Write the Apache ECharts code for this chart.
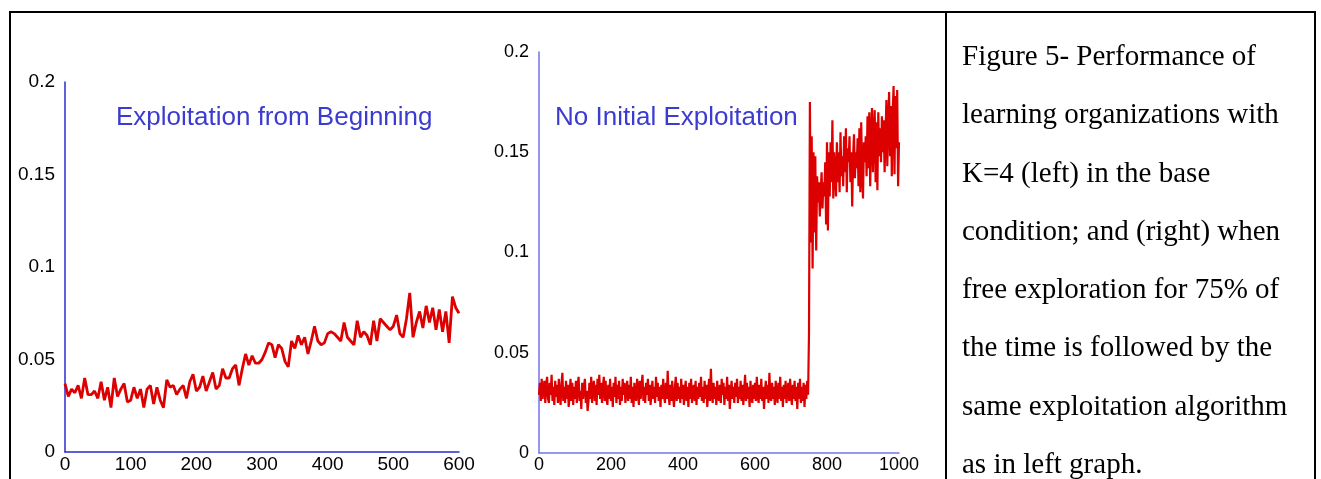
<!DOCTYPE html>
<html>
<head>
<meta charset="utf-8">
<script src="https://cdn.jsdelivr.net/npm/echarts@6/dist/echarts.min.js"></script>
<style>
  html, body { margin: 0; padding: 0; background: #fff; }
  #page { position: relative; width: 1321px; height: 479px; overflow: hidden; }
  #chart { position: absolute; left: 0; top: 0; width: 1321px; height: 479px; }
  .frame { position: absolute; left: 9px; top: 11px; width: 1303px; height: 520px; border: 2px solid #000; }
  .sep { position: absolute; left: 945px; top: 11px; width: 2px; height: 520px; background: #000; }
  .caption {
    position: absolute; left: 962px; top: 26px;
    font-family: 'Liberation Serif', 'Times New Roman', serif;
    font-size: 29px; line-height: 58.3px; color: #000; white-space: nowrap;
  }
</style>
</head>
<body>
<div id="page">
  <div class="frame"></div>
  <div class="sep"></div>
  <div id="chart"></div>
  <div class="caption">
    Figure 5- Performance of<br>
    learning organizations with<br>
    K=4 (left) in the base<br>
    condition; and (right) when<br>
    free exploration for 75% of<br>
    the time is followed by the<br>
    same exploitation algorithm<br>
    as in left graph.
  </div>
</div>
<script>
// 左图：从一开始就利用（每 5 步一个点，0..600）
const leftStep = 5
const leftValues = [
  0.037, 0.030, 0.034, 0.032, 0.036, 0.029, 0.040, 0.031, 0.031, 0.033,
  0.029, 0.038, 0.028, 0.035, 0.024, 0.040, 0.030, 0.034, 0.037, 0.027,
  0.028, 0.035, 0.029, 0.034, 0.024, 0.034, 0.036, 0.026, 0.035, 0.028,
  0.024, 0.039, 0.035, 0.036, 0.031, 0.034, 0.036, 0.029, 0.038, 0.042,
  0.033, 0.035, 0.041, 0.033, 0.038, 0.043, 0.034, 0.036, 0.045, 0.040,
  0.040, 0.045, 0.047, 0.036, 0.045, 0.053, 0.047, 0.052, 0.048, 0.048,
  0.050, 0.054, 0.059, 0.058, 0.051, 0.058, 0.056, 0.049, 0.046, 0.060,
  0.056, 0.063, 0.058, 0.062, 0.053, 0.060, 0.068, 0.060, 0.058, 0.059,
  0.064, 0.065, 0.064, 0.062, 0.060, 0.070, 0.062, 0.060, 0.058, 0.071,
  0.062, 0.065, 0.063, 0.058, 0.071, 0.060, 0.072, 0.070, 0.068, 0.066,
  0.068, 0.074, 0.064, 0.062, 0.072, 0.086, 0.062, 0.070, 0.076, 0.067,
  0.079, 0.070, 0.078, 0.066, 0.077, 0.065, 0.076, 0.059, 0.084, 0.078,
  0.075
]

// 右图：前 75% 自由探索，之后利用（每 2.5 步一个点，0..1000）
const rightStep = 2.5
const rightExplore = [
  0.029, 0.035, 0.026, 0.037, 0.027, 0.033, 0.036, 0.025, 0.034, 0.038, 0.027, 0.025, 0.035, 0.029, 0.039, 0.026, 0.033, 0.024, 0.036, 0.028,
  0.034, 0.025, 0.037, 0.029, 0.024, 0.035, 0.040, 0.026, 0.033, 0.025, 0.036, 0.027, 0.034, 0.023, 0.029, 0.037, 0.026, 0.035, 0.024, 0.033,
  0.027, 0.036, 0.025, 0.034, 0.038, 0.026, 0.031, 0.022, 0.035, 0.027, 0.033, 0.037, 0.025, 0.031, 0.021, 0.026, 0.035, 0.027, 0.038, 0.025,
  0.033, 0.036, 0.026, 0.034, 0.024, 0.037, 0.029, 0.039, 0.027, 0.035, 0.025, 0.033, 0.038, 0.026, 0.036, 0.028, 0.024, 0.034, 0.027, 0.037,
  0.026, 0.033, 0.023, 0.035, 0.028, 0.038, 0.025, 0.034, 0.027, 0.036, 0.024, 0.033, 0.026, 0.037, 0.029, 0.035, 0.025, 0.031, 0.036, 0.026,
  0.034, 0.027, 0.038, 0.025, 0.033, 0.023, 0.035, 0.028, 0.026, 0.037, 0.032, 0.024, 0.036, 0.027, 0.034, 0.039, 0.026, 0.033, 0.025, 0.035,
  0.029, 0.037, 0.026, 0.034, 0.024, 0.031, 0.036, 0.027, 0.033, 0.025, 0.038, 0.028, 0.035, 0.026, 0.033, 0.023, 0.034, 0.027, 0.037, 0.028,
  0.025, 0.035, 0.027, 0.041, 0.029, 0.024, 0.034, 0.026, 0.036, 0.028, 0.023, 0.033, 0.038, 0.026, 0.035, 0.027, 0.033, 0.025, 0.037, 0.027,
  0.034, 0.024, 0.031, 0.036, 0.026, 0.033, 0.023, 0.035, 0.027, 0.037, 0.025, 0.031, 0.034, 0.026, 0.036, 0.024, 0.033, 0.027, 0.035, 0.028,
  0.038, 0.026, 0.033, 0.025, 0.036, 0.027, 0.034, 0.023, 0.031, 0.037, 0.026, 0.042, 0.029, 0.025, 0.035, 0.027, 0.033, 0.024, 0.036, 0.028,
  0.026, 0.034, 0.025, 0.037, 0.029, 0.035, 0.024, 0.033, 0.027, 0.038, 0.026, 0.034, 0.022, 0.030, 0.036, 0.027, 0.033, 0.025, 0.035, 0.028,
  0.037, 0.025, 0.033, 0.027, 0.036, 0.026, 0.034, 0.024, 0.031, 0.039, 0.026, 0.035, 0.027, 0.033, 0.023, 0.036, 0.028, 0.025, 0.034, 0.027,
  0.035, 0.026, 0.038, 0.029, 0.025, 0.034, 0.027, 0.037, 0.026, 0.033, 0.022, 0.030, 0.036, 0.027, 0.034, 0.025, 0.040, 0.028, 0.026, 0.035,
  0.027, 0.033, 0.024, 0.036, 0.029, 0.025, 0.035, 0.027, 0.038, 0.026, 0.033, 0.023, 0.034, 0.027, 0.036, 0.025, 0.031, 0.035, 0.026, 0.037,
  0.029, 0.024, 0.034, 0.027, 0.036, 0.026, 0.033, 0.022, 0.035, 0.027, 0.037, 0.025, 0.033, 0.026, 0.035, 0.023, 0.034, 0.027, 0.036, 0.029
]
const rightExploit = [
  0.060, 0.175, 0.105, 0.158, 0.092, 0.150, 0.110, 0.148, 0.101, 0.138,
  0.125, 0.135, 0.118, 0.130, 0.140, 0.122, 0.135, 0.128, 0.145, 0.114,
  0.155, 0.111, 0.150, 0.128, 0.155, 0.135, 0.166, 0.127, 0.150, 0.140,
  0.128, 0.155, 0.135, 0.150, 0.130, 0.160, 0.138, 0.148, 0.133, 0.158,
  0.140, 0.162, 0.130, 0.152, 0.145, 0.158, 0.135, 0.150, 0.123, 0.148,
  0.159, 0.137, 0.150, 0.142, 0.157, 0.133, 0.162, 0.130, 0.165, 0.140,
  0.127, 0.155, 0.145, 0.158, 0.138, 0.168, 0.142, 0.170, 0.133, 0.160,
  0.172, 0.140, 0.160, 0.171, 0.135, 0.165, 0.131, 0.170, 0.148, 0.162,
  0.145, 0.168, 0.150, 0.166, 0.140, 0.158, 0.176, 0.143, 0.165, 0.180,
  0.148, 0.173, 0.138, 0.170, 0.183, 0.139, 0.178, 0.152, 0.181, 0.133,
  0.155
]
const rightValues = rightExplore.concat(rightExploit)

const yTicks = { min: 0, max: 0.2, interval: 0.05 }

const toPairs = (values, step) => values.map((v, i) => [i * step, v])

const chart = echarts.init(document.getElementById('chart'))

const axisCommon = (color) => ({
  splitLine: { show: false },
  axisTick: { show: false },
  axisLine: { show: true, onZero: false, lineStyle: { color: color, width: 1.5 } },
})

const titleStyle = { fontFamily: 'Liberation Sans, Arial', fontSize: 26, fontWeight: 'normal', color: '#3b3bd0' }

const option = {
  animation: false,
  title: [
    { text: 'Exploitation from Beginning', left: 116, top: 105, padding: 0, textStyle: titleStyle },
    { text: 'No Initial Exploitation', left: 555, top: 105, padding: 0, textStyle: titleStyle },
  ],
  grid: [
    { left: 65, top: 82, width: 394, height: 370 },
    { left: 539, top: 52, width: 360, height: 401 },
  ],
  xAxis: [
    {
      type: 'value', gridIndex: 0, min: 0, max: 600, interval: 100,
      ...axisCommon('#2b2bd0'),
      axisLabel: { margin: 3, color: '#000', fontSize: 19, fontFamily: 'Liberation Sans, Arial' },
    },
    {
      type: 'value', gridIndex: 1, min: 0, max: 1000, interval: 200,
      ...axisCommon('#7373ee'),
      axisLabel: { margin: 3, color: '#000', fontSize: 18, fontFamily: 'Liberation Sans, Arial', formatter: (v) => String(v) },
    },
  ],
  yAxis: [
    {
      type: 'value', gridIndex: 0, ...yTicks,
      ...axisCommon('#2b2bd0'),
      axisLabel: { margin: 10, color: '#000', fontSize: 19, fontFamily: 'Liberation Sans, Arial' },
    },
    {
      type: 'value', gridIndex: 1, ...yTicks,
      ...axisCommon('#7373ee'),
      axisLabel: { margin: 10, color: '#000', fontSize: 18, fontFamily: 'Liberation Sans, Arial' },
    },
  ],
  series: [
    {
      type: 'line', xAxisIndex: 0, yAxisIndex: 0, showSymbol: false,
      data: toPairs(leftValues, leftStep),
      lineStyle: { color: '#dd0000', width: 2.8 },
    },
    {
      type: 'line', xAxisIndex: 1, yAxisIndex: 1, showSymbol: false,
      data: toPairs(rightValues, rightStep),
      lineStyle: { color: '#dd0000', width: 2.2 },
    },
  ],
}

chart.setOption(option)
</script>
</body>
</html>
